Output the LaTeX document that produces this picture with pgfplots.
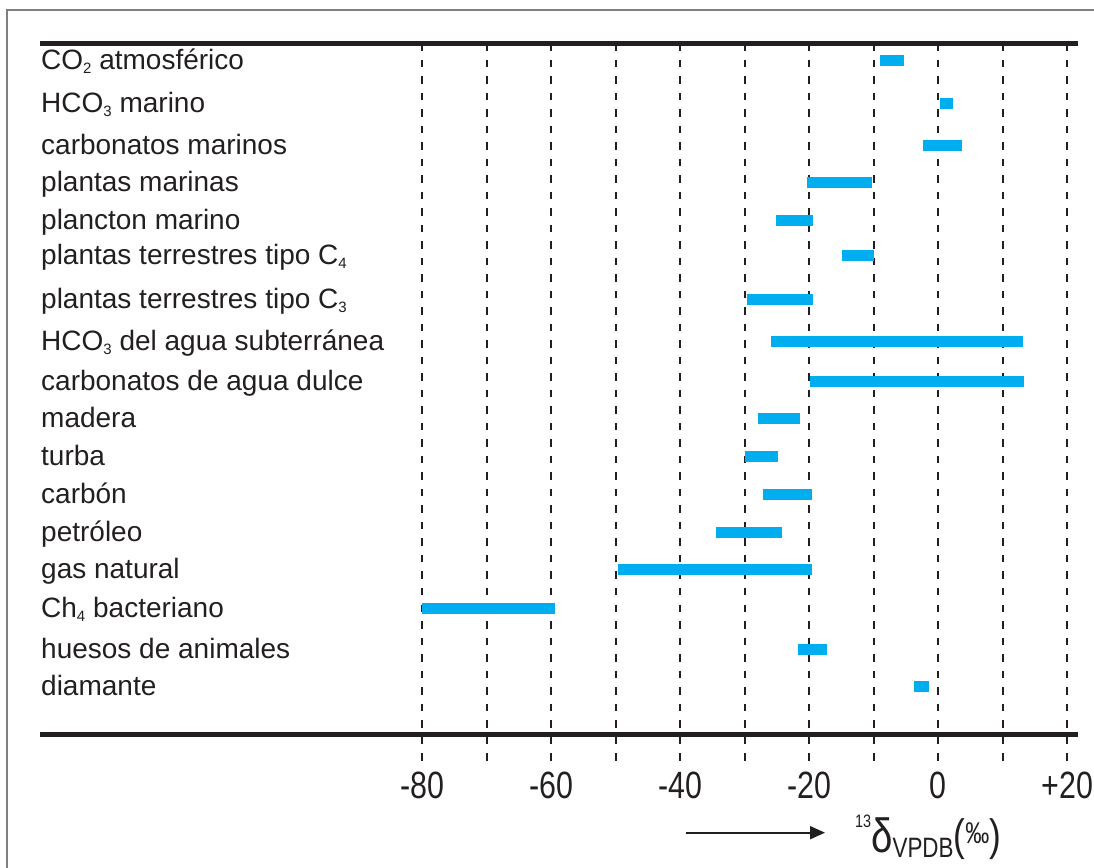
\documentclass[border=0pt]{standalone}
\usepackage{pgfplots}
\pgfplotsset{compat=1.18}
\usepackage{pgfplotstable}
\usepackage{fontspec}
\setmainfont{Liberation Sans}
\newfontfamily\narrowsans[FakeStretch=0.8]{Liberation Sans}
\usetikzlibrary{arrows.meta}

\definecolor{barblue}{HTML}{00AEEF}
\definecolor{inkdark}{HTML}{231F20}
\definecolor{framegray}{HTML}{808080}

\newcommand\sub[1]{\raisebox{-3.5pt}{\fontsize{15}{15}\selectfont #1}}

% delta 13C ranges (per mil VPDB); y = row height above the lower rule (pt)
\pgfplotstableread{
x y
-9.1 673.7
-5.3 673.7
nan nan
0.3 630.5
2.3 630.5
nan nan
-2.3 588.5
3.7 588.5
nan nan
-20.3 551.9
-10.2 551.9
nan nan
-25.2 513.5
-19.5 513.5
nan nan
-14.9 478.5
-9.9 478.5
nan nan
-29.7 434.8
-19.5 434.8
nan nan
-25.9 392.7
13.1 392.7
nan nan
-19.9 352.7
13.3 352.7
nan nan
-27.9 315.7
-21.4 315.7
nan nan
-30.0 278.0
-24.8 278.0
nan nan
-27.1 239.7
-19.6 239.7
nan nan
-34.5 202.2
-24.3 202.2
nan nan
-49.7 164.7
-19.6 164.7
nan nan
-80.0 125.8
-59.4 125.8
nan nan
-21.8 85.2
-17.3 85.2
nan nan
-3.8 48.2
-1.5 48.2
}\ranges

\begin{document}
\begin{tikzpicture}
\path[use as bounding box] (-40pt,-132.5pt) rectangle (1054pt,734.5pt);
\draw[framegray, line width=2pt] (-33pt,-140pt) -- (-33pt,724.5pt) -- (1060pt,724.5pt);

\begin{axis}[
  at={(0pt,0pt)}, anchor=south west,
  scale only axis, width=1038pt, height=691pt,
  xmin=-139.27, xmax=21.66, ymin=0, ymax=691,
  axis line style={draw=none},
  ytick=\empty,
  xtick={-80,-60,-40,-20,0,20},
  xticklabels={-80,-60,-40,-20,0,+20},
  major tick length=0pt,
  xticklabel style={font=\narrowsans\fontsize{38}{38}\selectfont, anchor=center, yshift=-51pt, text=inkdark},
  clip=false,
  unbounded coords=jump,
]
\pgfplotsinvokeforeach{-80,-70,...,20}{
  \draw[inkdark, line width=2.2pt, dash pattern=on 7.5pt off 9pt]
    (axis cs:#1,691) -- (axis cs:#1,-27.5);
}
\addplot[barblue, line width=11pt, no markers] table[x=x, y=y] {\ranges};
\draw[inkdark, line width=5pt] (rel axis cs:0,1) -- (rel axis cs:1,1);
\draw[inkdark, line width=5pt] (rel axis cs:0,0) -- (rel axis cs:1,0);
\end{axis}

\foreach \y/\t in {
  673.7/CO\sub{2} atmosférico,
  630.5/HCO\sub{3} marino,
  588.5/carbonatos marinos,
  551.9/plantas marinas,
  513.5/plancton marino,
  478.5/plantas terrestres tipo C\sub{4},
  434.8/plantas terrestres tipo C\sub{3},
  392.7/HCO\sub{3} del agua subterránea,
  352.7/carbonatos de agua dulce,
  315.7/madera,
  278.0/turba,
  239.7/carbón,
  202.2/petróleo,
  164.7/gas natural,
  125.8/Ch\sub{4} bacteriano,
  85.2/huesos de animales,
  48.2/diamante}{
  \node[anchor=base west, inner sep=0pt, text=inkdark, font=\fontsize{28}{30}\selectfont]
    at ({1pt},{\y pt-9pt}) {\t};
}

\draw[inkdark, line width=1.8pt, -{Triangle[length=15pt,width=13pt]}]
  (646pt,-98.2pt) -- (785pt,-98.2pt);
\node[anchor=base west, inner sep=0pt, text=inkdark] at (815pt,-117.5pt)
  {\narrowsans\raisebox{25pt}{\fontsize{18}{18}\selectfont 13}%
   {\fontsize{48}{48}\selectfont δ}%
   \raisebox{-5pt}{\fontsize{28}{28}\selectfont VPDB}%
   \raisebox{2pt}{\fontsize{44}{44}\selectfont (}%
   \raisebox{9pt}{\fontsize{30}{30}\selectfont ‰}%
   \raisebox{2pt}{\fontsize{44}{44}\selectfont )}};
\end{tikzpicture}
\end{document}
